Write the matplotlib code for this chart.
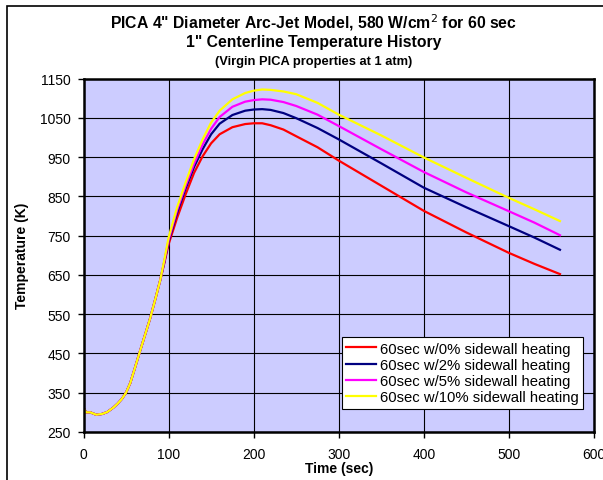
#!/usr/bin/env python3

import matplotlib
matplotlib.use('Agg')
import matplotlib.pyplot as plt
from matplotlib.patches import Rectangle

plt.rcParams['font.family'] = ['Liberation Sans', 'DejaVu Sans']

# time (sec)
time_s = [0, 0.5, 3, 8, 15, 22, 28, 35, 40, 45, 50, 55, 60, 66, 72, 78, 84, 90,
          95, 100, 110, 120, 130, 140, 150, 160, 175, 190, 200, 210, 220, 235,
          250, 275, 300, 350, 400, 450, 500, 530, 560]

early = [280, 310, 300, 300, 294, 296, 301, 312, 322, 334, 350, 375, 410, 453,
         495, 537, 585, 635]

temp_0pct = early + [680, 728, 795, 855, 910, 952, 985, 1008, 1026, 1034, 1036,
                     1036, 1031, 1020, 1003, 975, 941, 877, 813, 758, 706, 678, 652]
temp_2pct = early + [683, 735, 808, 870, 925, 970, 1008, 1035, 1057, 1068, 1071,
                     1072, 1070, 1062, 1049, 1024, 995, 934, 872, 822, 774, 745, 714]
temp_5pct = early + [685, 739, 815, 877, 933, 982, 1022, 1052, 1078, 1091, 1095,
                     1097, 1096, 1090, 1080, 1058, 1029, 970, 912, 860, 812, 783, 751]
temp_10pct = early + [688, 745, 822, 885, 945, 995, 1038, 1068, 1097, 1113, 1119,
                      1122, 1121, 1117, 1110, 1088, 1058, 1005, 949, 897, 846, 817, 787]

series = [
    (temp_0pct, '#FF0000', '60sec w/0% sidewall heating'),
    (temp_2pct, '#000080', '60sec w/2% sidewall heating'),
    (temp_5pct, '#FF00FF', '60sec w/5% sidewall heating'),
    (temp_10pct, '#FFFF00', '60sec w/10% sidewall heating'),
]

fig = plt.figure(figsize=(6.03, 4.81), dpi=100)
fig.patch.set_facecolor('white')
# chart area border (right/bottom fall outside the picture)
fig.patches.append(Rectangle((7 / 603, -0.1), 1.2, 1 - 7 / 481 + 0.1,
                             transform=fig.transFigure, fill=False,
                             edgecolor='black', linewidth=1.2))

ax = fig.add_axes([83.5 / 603, 1 - 433 / 481, (594 - 83.5) / 603, (433 - 79.5) / 481])
ax.set_facecolor('#CCCCFF')

for temps, color, label in series:
    ax.plot(time_s, temps, color=color, linewidth=1.6, label=label)

ax.set_xlim(0, 600)
ax.set_ylim(250, 1150)
ax.set_xticks(range(0, 601, 100))
ax.set_yticks(range(250, 1151, 100))
ax.grid(True, color='black', linewidth=0.8)
ax.set_axisbelow(True)
for s in ax.spines.values():
    s.set_linewidth(1.8)
ax.tick_params(direction='out', length=4, width=1, labelsize=10)
ax.tick_params(axis='y', pad=5)
ax.tick_params(axis='x', pad=7)

ax.set_xlabel('Time (sec)', fontsize=10, fontweight='bold', labelpad=0)
ax.set_ylabel('Temperature (K)', fontsize=10, fontweight='bold', labelpad=8)

leg = ax.legend(loc='lower right', bbox_to_anchor=(0.978, 0.066), fontsize=10.7,
                frameon=True, fancybox=False, framealpha=1, edgecolor='black',
                handlelength=2.0, handletextpad=0.25, labelspacing=0.15,
                borderpad=0.3, borderaxespad=0)
leg.get_frame().set_linewidth(0.8)

fig.text(314 / 603, 1 - 23 / 481, 'PICA 4" Diameter Arc-Jet Model, 580 W/cm$^2$ for 60 sec',
         ha='center', va='center', fontsize=11.3, fontweight='bold')
fig.text(314 / 603, 1 - 43 / 481, '1" Centerline Temperature History',
         ha='center', va='center', fontsize=11.3, fontweight='bold')
fig.text(314 / 603, 1 - 62 / 481, '(Virgin PICA properties at 1 atm)',
         ha='center', va='center', fontsize=9.3, fontweight='bold')

fig.savefig('out.png', dpi=100)
